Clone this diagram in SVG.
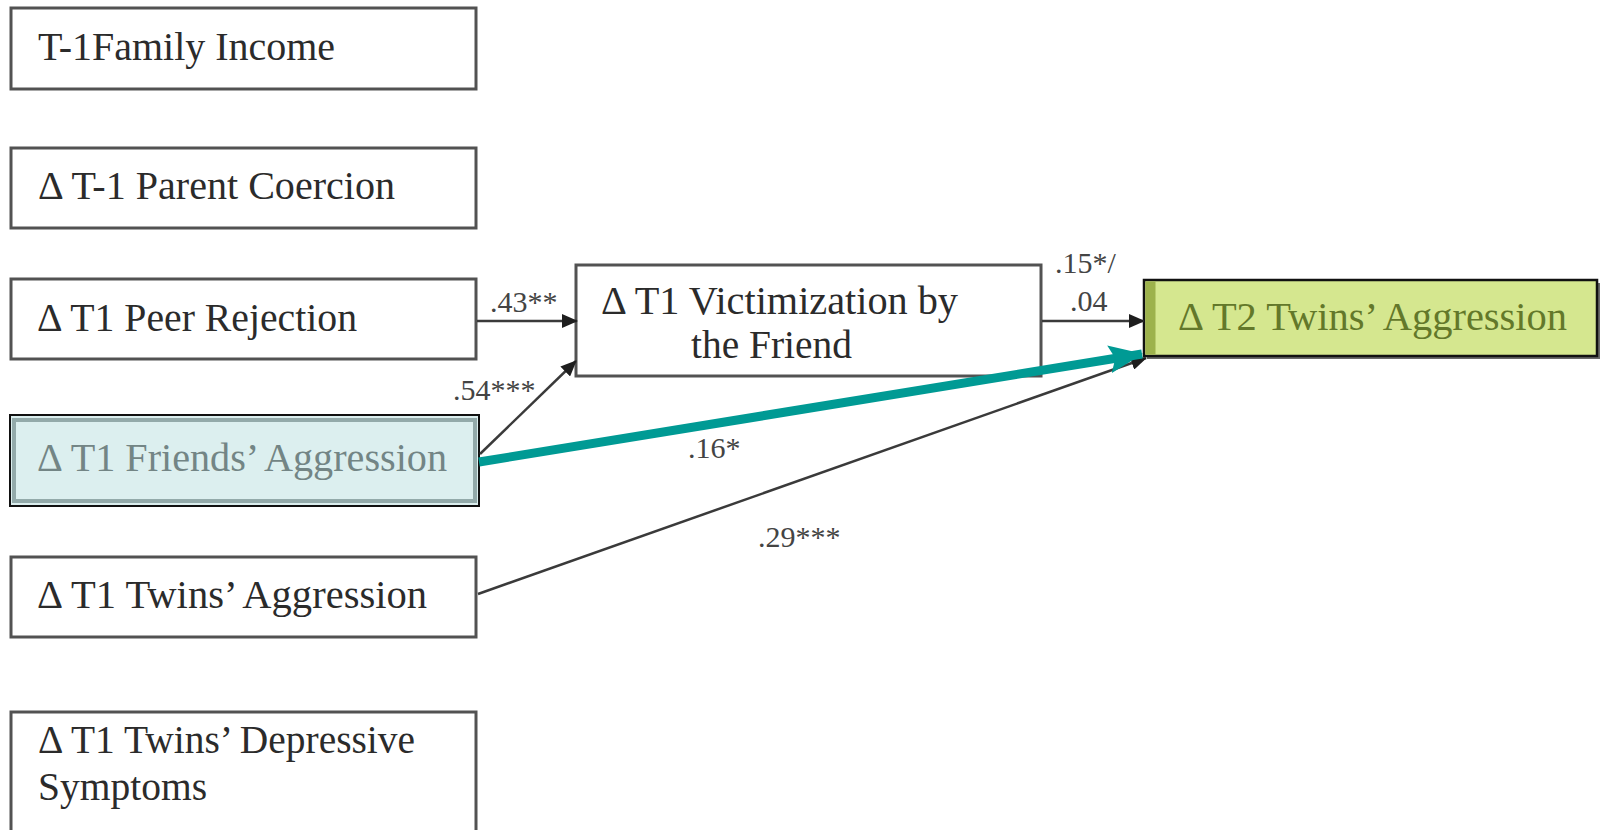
<svg xmlns="http://www.w3.org/2000/svg" width="1603" height="830" viewBox="0 0 1603 830">
<defs>
<style>
.box{fill:#ffffff;stroke:#525252;stroke-width:3}
.t{font-family:"Liberation Serif","Times New Roman",Tinos,"DejaVu Serif",serif;font-size:39px;fill:#2b2b2b}
.lbl{font-family:"Liberation Serif","Times New Roman",Tinos,"DejaVu Serif",serif;font-size:30px;fill:#444444}
.c{fill:none;stroke:#3a3a3a;stroke-width:2.5}
</style>
<marker id="ah" markerUnits="userSpaceOnUse" markerWidth="16" markerHeight="14" refX="15" refY="7" orient="auto">
<path d="M0,0 L16,7 L0,14 Z" fill="#1e1e1e"/>
</marker>
<marker id="ahT" markerUnits="userSpaceOnUse" markerWidth="34" markerHeight="28" refX="33" refY="14" orient="auto">
<path d="M0,0 L34,14 L0,28 L6,14 Z" fill="#009a94"/>
</marker>
</defs>
<rect width="1603" height="830" fill="#ffffff"/>

<g id="n-income">
<rect class="box" x="11" y="8" width="465" height="81"/>
<text class="t" x="38" y="60" textLength="297" lengthAdjust="spacingAndGlyphs">T-1Family Income</text>
</g>
<g id="n-coercion">
<rect class="box" x="11" y="148" width="465" height="80"/>
<text class="t" x="38" y="199" textLength="357" lengthAdjust="spacingAndGlyphs">Δ T-1 Parent Coercion</text>
</g>
<g id="n-peer">
<rect class="box" x="11" y="279" width="465" height="80"/>
<text class="t" x="37" y="331" textLength="320" lengthAdjust="spacingAndGlyphs">Δ T1 Peer Rejection</text>
</g>
<g id="n-friends">
<rect x="10" y="415" width="469" height="91" fill="#dcefef" stroke="#111111" stroke-width="2"/>
<rect x="14" y="420" width="461" height="81" fill="none" stroke="#93aaaa" stroke-width="4"/>
<text class="t" x="37" y="471" textLength="410" lengthAdjust="spacingAndGlyphs" style="fill:#738585">Δ T1 Friends’ Aggression</text>
</g>
<g id="n-twins">
<rect class="box" x="11" y="557" width="465" height="80"/>
<text class="t" x="37" y="608" textLength="390" lengthAdjust="spacingAndGlyphs">Δ T1 Twins’ Aggression</text>
</g>
<g id="n-depress">
<rect class="box" x="11" y="712" width="465" height="140"/>
<text class="t" x="38" y="753" textLength="377" lengthAdjust="spacingAndGlyphs">Δ T1 Twins’ Depressive</text>
<text class="t" x="38" y="800" textLength="169" lengthAdjust="spacingAndGlyphs">Symptoms</text>
</g>
<g id="n-victim">
<rect class="box" x="576" y="265" width="465" height="111"/>
<text class="t" x="601" y="314" textLength="357" lengthAdjust="spacingAndGlyphs">Δ T1 Victimization by</text>
<text class="t" x="691" y="358" textLength="161" lengthAdjust="spacingAndGlyphs">the Friend</text>
</g>
<g id="n-t2">
<rect x="1147" y="283" width="453" height="76" fill="#6a6a6a"/>
<rect x="1144" y="280" width="453" height="76" fill="#d5e78f" stroke="#111111" stroke-width="2.5"/>
<rect x="1145.5" y="281.5" width="10" height="73" fill="#9db24c"/>
<text class="t" x="1178" y="330" textLength="389" lengthAdjust="spacingAndGlyphs" style="fill:#63782a">Δ T2 Twins’ Aggression</text>
</g>

<g id="connectors">
<line class="c" x1="477" y1="321" x2="577" y2="321" marker-end="url(#ah)"/>
<line class="c" x1="480" y1="454" x2="576" y2="361" stroke-width="2" marker-end="url(#ah)"/>
<line class="c" x1="1042" y1="321" x2="1144" y2="321" marker-end="url(#ah)"/>
<line class="c" x1="478" y1="594" x2="1146" y2="358" stroke-width="2" marker-end="url(#ah)"/>
<line x1="479" y1="462" x2="1142" y2="354" stroke="#009a94" stroke-width="9" marker-end="url(#ahT)"/>
</g>

<g id="labels">
<text class="lbl" x="490" y="312">.43**</text>
<text class="lbl" x="453" y="400">.54***</text>
<text class="lbl" x="1055" y="273">.15*/</text>
<text class="lbl" x="1070" y="311">.04</text>
<text class="lbl" x="688" y="458">.16*</text>
<text class="lbl" x="758" y="547">.29***</text>
</g>
</svg>
